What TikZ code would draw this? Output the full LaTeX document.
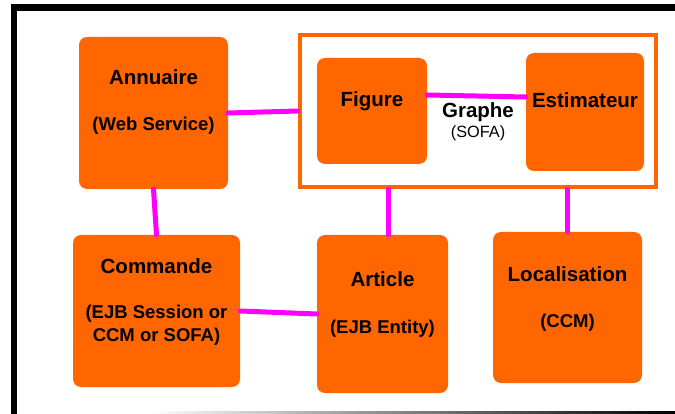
\documentclass[tikz,border=0pt]{standalone}
\usepackage{fontspec}
\setmainfont{Liberation Sans}
\usetikzlibrary{calc}
\definecolor{boxorange}{HTML}{FF6600}
\definecolor{linkmag}{HTML}{FF00FF}
\tikzset{
  compbox/.style={rectangle, rounded corners=8pt, fill=boxorange, draw=none, inner sep=0pt},
  title/.style={anchor=base, inner sep=0pt, font=\fontsize{20.5}{24}\selectfont\bfseries},
  sub/.style={anchor=base, inner sep=0pt, font=\fontsize{18.5}{22}\selectfont\bfseries, align=center},
  link/.style={draw=linkmag, line width=5pt, line cap=round},
}
\begin{document}
\begin{tikzpicture}[x=1pt, y=-1pt]
\useasboundingbox (0,0) rectangle (675,414);
% frame
\fill[black] (11,4) rectangle (675,11);
\fill[black] (11,4) rectangle (16.7,414);
\shade[left color=white, right color=black] (150,411) rectangle (675,414);
% container
\node[rectangle, draw=boxorange, line width=4.5pt, fill=none, minimum width=356pt, minimum height=152pt, inner sep=0pt] (cont) at (478,111) {};
% boxes
\node[compbox, minimum width=149pt, minimum height=152pt] (ann) at (153.5,113) {};
\node[compbox, minimum width=110pt, minimum height=106pt] (fig) at (372,111) {};
\node[compbox, minimum width=118pt, minimum height=118pt] (est) at (585,112) {};
\node[compbox, minimum width=167pt, minimum height=152pt] (com) at (156.5,311) {};
\node[compbox, minimum width=131pt, minimum height=158pt] (art) at (382.5,314) {};
\node[compbox, minimum width=149pt, minimum height=151pt] (loc) at (567.5,307.5) {};
% texts
\node[title] (annT) at (153.5,85) {Annuaire};
\node[sub] (annS) at (153.5,131) {(Web Service)};
\node[title] (figT) at (372,107) {Figure};
\node[title] (estT) at (585,108) {Estimateur};
\node[title] (graT) at (478,118) {Graphe};
\node[anchor=base, inner sep=0pt, font=\fontsize{16.3}{19}\selectfont] (graS) at (478,138) {(SOFA)};
\node[title] (comT) at (156.5,273) {Commande};
\node[sub] (comS1) at (156.5,318) {(EJB Session or};
\node[sub] (comS2) at (156.5,341) {CCM or SOFA)};
\node[title] (artT) at (382.5,286.5) {Article};
\node[sub] (artS) at (382.5,333) {(EJB Entity)};
\node[title] (locT) at (567.5,281.5) {Localisation};
\node[sub] (locS) at (567.5,327) {(CCM)};
% links
\draw[link] (ann.east) -- (cont.west);
\draw[link] (ann.south) -- (com.north);
\draw[link] ([yshift=16pt]fig.east) -- ([yshift=15pt]est.west);
\draw[link] (com.east) -- (art.west);
\draw[link] ($(art.north |- cont.south)+(5.5,0)$) -- ($(art.north)+(5.5,0)$);
\draw[link] (loc.north |- cont.south) -- (loc.north);
\end{tikzpicture}
\end{document}
